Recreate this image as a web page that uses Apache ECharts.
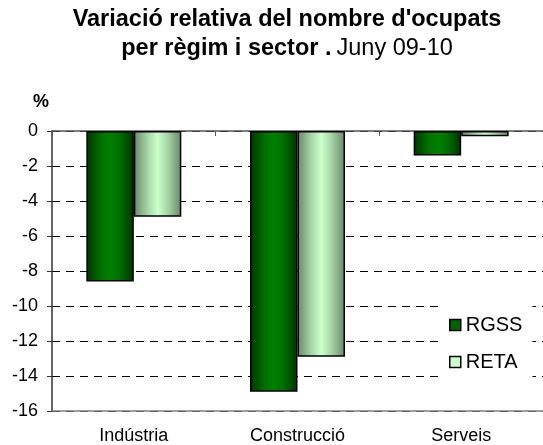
<!DOCTYPE html>
<html>
<head>
<meta charset="utf-8">
<script src="https://cdn.jsdelivr.net/npm/echarts@6/dist/echarts.min.js"></script>
<style>
  html, body { margin: 0; padding: 0; background: #fff; }
  #chart { width: 543px; height: 445px; }
</style>
</head>
<body>
<div id="chart"></div>
<script>
'use strict';

var categories = ['Indústria', 'Construcció', 'Serveis'];
var rgss = [-8.6, -14.9, -1.4];
var reta = [-4.9, -12.9, -0.3];
var seriesNames = ['RGSS', 'RETA'];

var FONT = 'Liberation Sans, Arial, sans-serif';

// gradient per barra (efecte cilindre com a l'Excel)
function barGradient(edge, mid, center) {
  return new echarts.graphic.LinearGradient(0, 0, 1, 0, [
    { offset: 0, color: edge },
    { offset: 0.3, color: mid },
    { offset: 0.5, color: center },
    { offset: 0.7, color: mid },
    { offset: 1, color: edge }
  ]);
}

var myChart = echarts.init(document.getElementById('chart'));

var option = {
  animation: false,
  backgroundColor: '#fff',
  textStyle: { fontFamily: FONT, color: '#000' },
  title: {
    left: 287,
    textAlign: 'center',
    top: 5,
    padding: 0,
    text: "{b|Variació relativa del nombre d'ocupats}\n{b|per règim i sector .} {n|Juny 09-10}",
    textStyle: {
      rich: {
        b: { fontFamily: FONT, fontSize: 23.5, fontWeight: 'bold', color: '#000', lineHeight: 29 },
        n: { fontFamily: FONT, fontSize: 23.5, fontWeight: 'normal', color: '#000', lineHeight: 29 }
      }
    }
  },
  legend: {
    orient: 'vertical',
    left: 440,
    top: 300,
    padding: [15, 10, 14, 9],
    backgroundColor: '#fff',
    itemWidth: 11,
    itemHeight: 11,
    itemGap: 17,
    icon: 'rect',
    textStyle: { fontFamily: FONT, fontSize: 20, color: '#000', lineHeight: 20 },
    data: [
      { name: 'RGSS', itemStyle: { color: '#006400', borderColor: '#000', borderWidth: 1.5 } },
      { name: 'RETA', itemStyle: { color: '#ccffcc', borderColor: '#000', borderWidth: 1.5 } }
    ]
  },
  grid: { left: 52, top: 131, width: 498, height: 281 },
  xAxis: [
    {
      type: 'category',
      data: categories,
      position: 'bottom',
      axisLine: { onZero: false, lineStyle: { color: '#808080', width: 1.5 } },
      axisTick: { show: false },
      axisLabel: { fontFamily: FONT, fontSize: 18, color: '#000', margin: 16 }
    },
    {
      type: 'category',
      data: categories,
      position: 'top',
      axisLine: { onZero: false, lineStyle: { color: '#555', width: 1.5 } },
      axisTick: { show: true, inside: true, length: 5, lineStyle: { color: '#555' } },
      axisLabel: { show: false }
    }
  ],
  yAxis: {
    type: 'value',
    min: -16,
    max: 0,
    interval: 2,
    name: '%',
    nameLocation: 'end',
    nameGap: 20,
    nameTextStyle: { fontFamily: FONT, fontSize: 18, fontWeight: 'bold', color: '#000', align: 'right', padding: [0, 3, 0, 0] },
    axisLine: { show: true, lineStyle: { color: '#333', width: 1.5 } },
    axisTick: { show: true, length: 5, lineStyle: { color: '#333' } },
    axisLabel: { fontFamily: FONT, fontSize: 18, color: '#000', margin: 14 },
    splitLine: { lineStyle: { color: '#000', type: [8, 6], width: 1 } }
  },
  series: [
    {
      name: seriesNames[0],
      type: 'bar',
      data: rgss,
      barWidth: 47.5,
      barGap: '0%',
      itemStyle: {
        color: barGradient('#003300', '#006f00', '#008000'),
        borderColor: '#000',
        borderWidth: 1.5
      }
    },
    {
      name: seriesNames[1],
      type: 'bar',
      data: reta,
      barWidth: 47.5,
      barGap: '0%',
      itemStyle: {
        color: barGradient('#6a866a', '#a8d8a8', '#ccffcc'),
        borderColor: '#000',
        borderWidth: 1.5
      }
    }
  ]
};

myChart.setOption(option);
</script>
</body>
</html>
